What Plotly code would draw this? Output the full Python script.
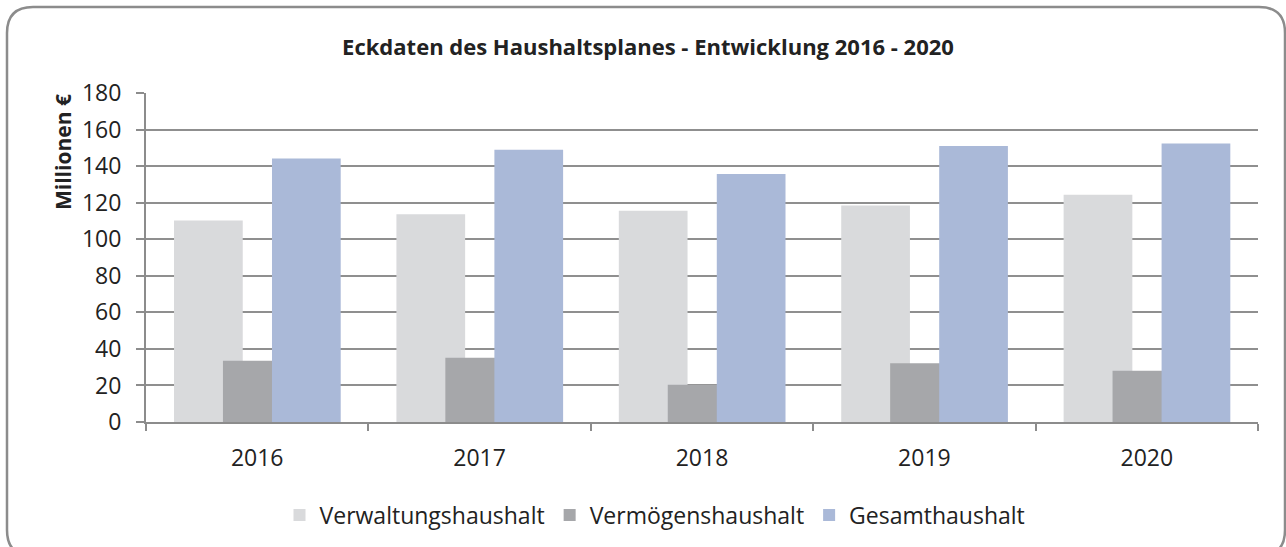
import plotly.graph_objects as go

years = ["2016", "2017", "2018", "2019", "2020"]
verwaltung = [110.3, 113.6, 115.6, 118.5, 124.3]
vermoegen = [33.5, 35.2, 20.4, 32.1, 28.1]
gesamt = [144.2, 149.0, 135.7, 151.0, 152.4]
series_names = ["Verwaltungshaushalt", "Vermögenshaushalt", "Gesamthaushalt"]
colors = ["#D9DADC", "#A6A7AA", "#AAB9D8"]
y_ticks = [0, 20, 40, 60, 80, 100, 120, 140, 160, 180]

W, H = 1286, 547
ml, mr, mt, mb = 146, 28, 93, 125

bar_w = 0.309
offsets = [-0.374, -0.154, 0.0665]

fig = go.Figure()
for name, vals, col, off in zip(series_names, [verwaltung, vermoegen, gesamt], colors, offsets):
    fig.add_trace(go.Bar(
        x=years, y=vals, name=name,
        marker=dict(color=col, line=dict(width=0)),
        width=bar_w, offset=off,
    ))

font = "Open Sans, Liberation Sans, sans-serif"

pw = W - ml - mr
ph = H - mt - mb
def px_x(p):
    return (p - ml) / pw
def px_y(p):
    return (H - mb - p) / ph

r = 26
x0, x1, y0, y1 = 7, 1285, 7, 556
path = (f"M {px_x(x0+r)},{px_y(y0)} L {px_x(x1-r)},{px_y(y0)} "
        f"Q {px_x(x1)},{px_y(y0)} {px_x(x1)},{px_y(y0+r)} "
        f"L {px_x(x1)},{px_y(y1-r)} Q {px_x(x1)},{px_y(y1)} {px_x(x1-r)},{px_y(y1)} "
        f"L {px_x(x0+r)},{px_y(y1)} Q {px_x(x0)},{px_y(y1)} {px_x(x0)},{px_y(y1-r)} "
        f"L {px_x(x0)},{px_y(y0+r)} Q {px_x(x0)},{px_y(y0)} {px_x(x0+r)},{px_y(y0)} Z")

fig.update_layout(
    width=W, height=H,
    margin=dict(l=ml, r=mr, t=mt, b=mb, autoexpand=False),
    paper_bgcolor="white", plot_bgcolor="white",
    barmode="overlay",
    font=dict(family=font, size=20, color="#222222"),
    title=dict(text="<b>Eckdaten des Haushaltsplanes - Entwicklung 2016 - 2020</b>",
               x=px_x(648), xref="paper", xanchor="center", y=1 - 47 / H, yanchor="middle",
               font=dict(family=font, size=22, color="#222222")),
    showlegend=True,
    legend=dict(orientation="h", x=px_x(655), xanchor="center", xref="paper",
                y=px_y(515), yanchor="middle",
                font=dict(family=font, size=23, color="#222222"),
                itemsizing="constant", traceorder="normal"),
    xaxis=dict(type="category", showgrid=False, showline=True, linecolor="#8C8C8C", linewidth=2,
               ticks="outside", tickson="boundaries", ticklen=7, tickcolor="#8C8C8C", tickwidth=1.5,
               ticklabelstandoff=14,
               tickfont=dict(family=font, size=23, color="#222222"),
               range=[-0.5, 4.5]),
    yaxis=dict(range=[0, 180], tickvals=y_ticks, showgrid=True, gridcolor="#8F8F8F", gridwidth=1.5,
               showline=True, linecolor="#8C8C8C", linewidth=2, zeroline=False,
               ticks="outside", ticklen=8, tickcolor="#8C8C8C", tickwidth=1.5,
               ticklabelstandoff=10,
               tickfont=dict(family=font, size=23, color="#222222")),
    shapes=[dict(type="path", path=path, xref="paper", yref="paper",
                 line=dict(color="#8C8C8C", width=2.5), fillcolor="rgba(0,0,0,0)", layer="below")],
    annotations=[dict(text="<b>Millionen €</b>", textangle=-90, x=px_x(63), y=px_y(152),
                      xref="paper", yref="paper", showarrow=False, xanchor="center", yanchor="middle",
                      font=dict(family=font, size=21, color="#222222"))],
)

fig.write_html("out.html", config={"displayModeBar": False},
               post_script="document.body.style.margin='0';document.body.style.overflow='hidden';")
